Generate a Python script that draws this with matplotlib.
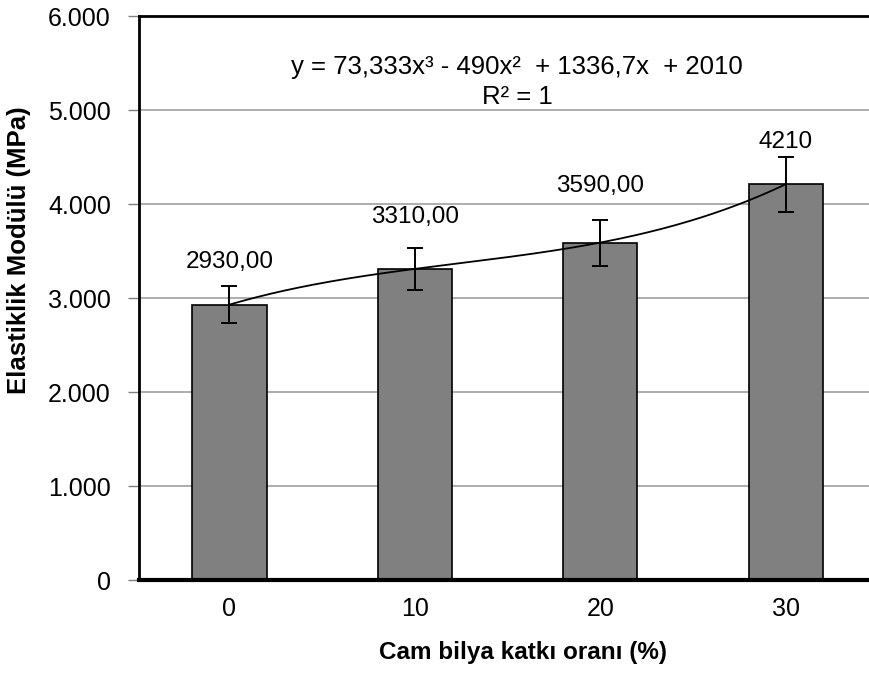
import numpy as np
import matplotlib
matplotlib.use("Agg")
import matplotlib.pyplot as plt
from matplotlib.ticker import FuncFormatter

# glass bead content (%) and elastic modulus results
katki = ["0", "10", "20", "30"]
modul = [2930, 3310, 3590, 4210]
hata = [200, 225, 245, 290]
etiket = ["2930,00", "3310,00", "3590,00", "4210"]

# cubic trendline coefficients (x = 1..4)
trend = [73.333, -490.0, 1336.7, 2010.0]
denklem = "y = 73,333x³ - 490x²  + 1336,7x  + 2010"
r_kare = "R² = 1"

plt.rcParams['font.family'] = ['Liberation Sans', 'DejaVu Sans']

fig = plt.figure(figsize=(8.69, 6.75), dpi=100)
ax = fig.add_axes([0.1595, 0.1407, 0.8405, 0.8355])

x = np.arange(len(modul))
ax.bar(x, modul, width=0.4, color='#808080', edgecolor='black', linewidth=1.2, zorder=2)
ax.errorbar(x, modul, yerr=hata, fmt='none', ecolor='black', elinewidth=1.4,
            capsize=6, capthick=1.4, zorder=4)

# polynomial trendline drawn over the bars
xs = np.linspace(0, len(modul) - 1, 200)
ys = np.polyval(trend, xs + 1)
ax.plot(xs, ys, color='black', linewidth=1.3, zorder=3)

# value labels above the error bars
lab_dy = [24, 31, 34, 15]
for i in range(len(modul)):
    ax.annotate(etiket[i], (x[i], modul[i] + hata[i]), xytext=(0, lab_dy[i]),
                textcoords='offset pixels', ha='center', va='center', fontsize=17.5)

ax.text(0.518, 0.9096, denklem, transform=ax.transAxes, ha='center', va='center', fontsize=18.5)
ax.text(0.518, 0.8564, r_kare, transform=ax.transAxes, ha='center', va='center', fontsize=18.5)

ax.set_ylim(0, 6000)
ax.set_xlim(-0.49, 3.45)
ax.set_yticks(np.arange(0, 6001, 1000))
ax.yaxis.set_major_formatter(FuncFormatter(lambda v, p: "0" if v == 0 else f"{int(v/1000)}.000"))
ax.set_xticks(x)
ax.set_xticklabels(katki)
ax.grid(axis='y', color='#a0a0a0', linewidth=1.2, zorder=0)
ax.set_axisbelow(True)

ax.spines['right'].set_visible(False)
ax.spines['top'].set_linewidth(2)
ax.spines['left'].set_linewidth(2)
ax.spines['bottom'].set_linewidth(3)
ax.tick_params(axis='y', length=8, width=1, color='#808080', labelsize=18, pad=12)
ax.tick_params(axis='x', length=0, labelsize=18, pad=12)

ax.set_ylabel("Elastiklik Modülü (MPa)", fontsize=18.5, fontweight='bold')
ax.set_xlabel("Cam bilya katkı oranı (%)", fontsize=17.5, fontweight='bold')
ax.yaxis.set_label_coords(-0.148, 0.585)
ax.xaxis.set_label_coords(0.526, -0.109)

fig.savefig("out.png", dpi=100)
